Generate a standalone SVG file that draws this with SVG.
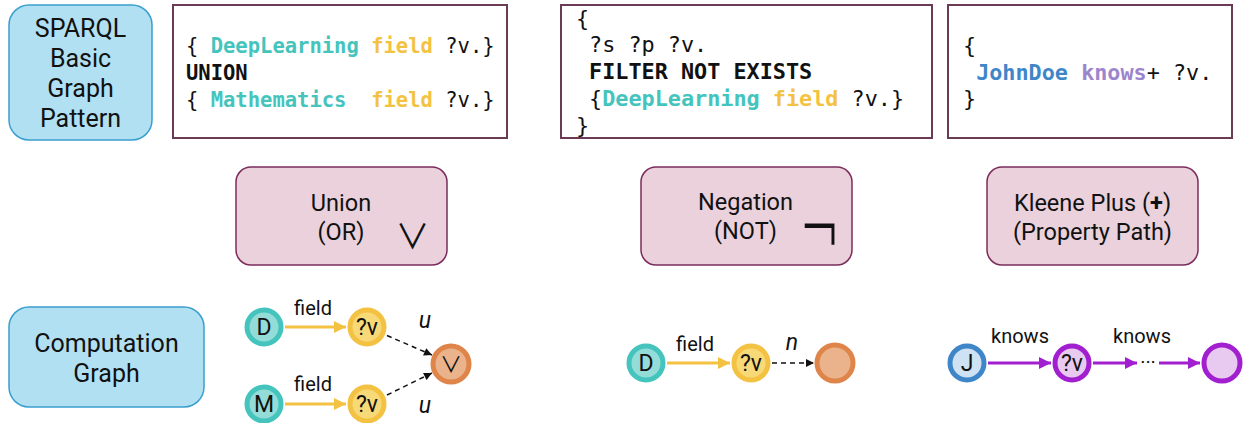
<svg xmlns="http://www.w3.org/2000/svg" width="1244" height="423" viewBox="0 0 1244 423">
<defs>
<style>
.blue{fill:#b1e0f3;stroke:#3a9fce;stroke-width:1.5}
.code{fill:#fff;stroke:#6b3a55;stroke-width:2}
.pink{fill:#ead1dc;stroke:#7b2c5a;stroke-width:1.5}
.lbl{font-family:Roboto,"Liberation Sans",sans-serif;fill:#111;text-anchor:middle}
.mono{font-family:"DejaVu Sans Mono","Liberation Mono",monospace;font-size:20.5px;fill:#111;white-space:pre}
.mono2{font-family:"DejaVu Sans Mono","Liberation Mono",monospace;font-size:21.8px;fill:#111;white-space:pre}
.b{font-weight:bold}
.teal{fill:#45c4bd;font-weight:bold}
.yel{fill:#f4c242;font-weight:bold}
.jd{fill:#3f86c8;font-weight:bold}
.kn{fill:#9d85cc;font-weight:bold}
.nt{fill:#93dcd7;stroke:#45c4bd;stroke-width:5}
.ny{fill:#f8d978;stroke:#f4c242;stroke-width:5}
.no{fill:#ebb38b;stroke:#e0854a;stroke-width:5}
.nb{fill:#cfe2f3;stroke:#3f86c8;stroke-width:5}
.np{fill:#e8c9f0;stroke:#a21fcf;stroke-width:5}
.nlab{font-family:Roboto,"Liberation Sans",sans-serif;font-size:23px;fill:#111;text-anchor:middle}
.elab{font-family:Roboto,"Liberation Sans",sans-serif;font-size:20px;fill:#111;text-anchor:middle}
.ital{font-family:Roboto,"Liberation Sans",sans-serif;font-size:23px;font-style:italic;fill:#111;text-anchor:middle}
.sym{font-family:"Noto Sans CJK JP","Noto Sans CJK SC","DejaVu Sans",sans-serif;fill:#111;text-anchor:middle}
.ey{stroke:#f4c242;stroke-width:3;fill:none}
.ep{stroke:#a21fcf;stroke-width:3;fill:none}
.ed{stroke:#111;stroke-width:1.5;stroke-dasharray:5,4;fill:none}
</style>
<marker id="ay" viewBox="0 0 10 10" refX="10" refY="5" markerWidth="15" markerHeight="12" markerUnits="userSpaceOnUse" orient="auto"><path d="M0,0 L10,5 L0,10 z" fill="#f4c242"/></marker>
<marker id="ap" viewBox="0 0 10 10" refX="10" refY="5" markerWidth="15" markerHeight="12" markerUnits="userSpaceOnUse" orient="auto"><path d="M0,0 L10,5 L0,10 z" fill="#a21fcf"/></marker>
<marker id="ak" viewBox="0 0 10 10" refX="10" refY="5" markerWidth="9" markerHeight="8" markerUnits="userSpaceOnUse" orient="auto"><path d="M0,0 L10,5 L0,10 z" fill="#111"/></marker>
</defs>
<rect width="1244" height="423" fill="#fff"/>

<g id="sparql-label">
<rect class="blue" x="9" y="5" width="143" height="135" rx="20"/>
<text class="lbl" font-size="25" x="80.5" y="37">SPARQL</text>
<text class="lbl" font-size="25" x="80.5" y="67">Basic</text>
<text class="lbl" font-size="25" x="80.5" y="97">Graph</text>
<text class="lbl" font-size="25" x="80.5" y="127">Pattern</text>
</g>

<g id="code-union">
<rect class="code" x="173" y="5" width="334" height="133"/>
<text class="mono" x="186" y="53">{ <tspan class="teal">DeepLearning</tspan> <tspan class="yel">field</tspan> ?v.}</text>
<text class="mono b" x="186" y="80">UNION</text>
<text class="mono" x="186" y="107">{ <tspan class="teal">Mathematics</tspan>  <tspan class="yel">field</tspan> ?v.}</text>
</g>

<g id="code-negation">
<rect class="code" x="561" y="5" width="371" height="133"/>
<text class="mono2" x="576" y="25.5">{</text>
<text class="mono2" x="576" y="52.3"> ?s ?p ?v.</text>
<text class="mono2 b" x="576" y="79"> FILTER NOT EXISTS</text>
<text class="mono2" x="576" y="105.8"> {<tspan class="teal">DeepLearning</tspan> <tspan class="yel">field</tspan> ?v.}</text>
<text class="mono2" x="576" y="132.5">}</text>
</g>

<g id="code-kleene">
<rect class="code" x="948" y="5" width="284" height="133"/>
<text class="mono2" x="963" y="53">{</text>
<text class="mono2" x="963" y="80"> <tspan class="jd">JohnDoe</tspan> <tspan class="kn">knows</tspan>+ ?v.</text>
<text class="mono2" x="963" y="106">}</text>
</g>

<g id="union-op">
<rect class="pink" x="236" y="167" width="211" height="98" rx="15"/>
<text class="lbl" font-size="23.5" x="341" y="211">Union</text>
<text class="lbl" font-size="23.5" x="341" y="240">(OR)</text>
<text class="sym" font-size="34" x="412.5" y="249">∨</text>
</g>

<g id="negation-op">
<rect class="pink" x="641" y="167" width="211" height="98" rx="15"/>
<text class="lbl" font-size="23.5" x="745.5" y="210">Negation</text>
<text class="lbl" font-size="23.5" x="745.5" y="239">(NOT)</text>
<text class="sym" font-size="40" x="0" y="0" transform="translate(820,257) scale(1,1.6)">￢</text>
</g>

<g id="kleene-op">
<rect class="pink" x="987" y="167" width="211" height="98" rx="15"/>
<text class="lbl" font-size="23.5" x="1092.5" y="211">Kleene Plus (<tspan font-weight="bold">+</tspan>)</text>
<text class="lbl" font-size="23.5" x="1092.5" y="240">(Property Path)</text>
</g>

<g id="computation-label">
<rect class="blue" x="9" y="307" width="195" height="100" rx="20"/>
<text class="lbl" font-size="25" x="106.5" y="352">Computation</text>
<text class="lbl" font-size="25" x="106.5" y="382">Graph</text>
</g>

<g id="connectors">
<line class="ey" x1="285" y1="327" x2="346" y2="327" marker-end="url(#ay)"/>
<line class="ey" x1="285" y1="404" x2="346" y2="404" marker-end="url(#ay)"/>
<line class="ed" x1="387" y1="335.5" x2="432" y2="355" marker-end="url(#ak)"/>
<line class="ed" x1="387" y1="395" x2="432" y2="373" marker-end="url(#ak)"/>
<line class="ey" x1="667" y1="363" x2="730" y2="363" marker-end="url(#ay)"/>
<line class="ed" x1="772" y1="363" x2="814" y2="363" marker-end="url(#ak)"/>
<line class="ep" x1="988" y1="363" x2="1051" y2="363" marker-end="url(#ap)"/>
<line class="ep" x1="1093" y1="363" x2="1137" y2="363" marker-end="url(#ap)"/>
<line class="ep" x1="1159" y1="363" x2="1200" y2="363" marker-end="url(#ap)"/>
<text class="elab" x="313" y="315">field</text>
<text class="elab" x="313" y="391">field</text>
<text class="ital" x="425" y="328">u</text>
<text class="ital" x="425" y="413">u</text>
<text class="elab" x="695" y="351">field</text>
<text class="ital" x="792" y="350">n</text>
<text class="elab" x="1020" y="343">knows</text>
<text class="elab" x="1142" y="343">knows</text>
<text class="elab" x="1148" y="369">···</text>
</g>

<g id="node-D1"><circle class="nt" cx="264" cy="327" r="17"/><text class="nlab" x="264" y="335">D</text></g>
<g id="node-M"><circle class="nt" cx="264" cy="404" r="17"/><text class="nlab" x="264" y="412">M</text></g>
<g id="node-v1"><circle class="ny" cx="367" cy="327" r="17"/><text class="nlab" x="367" y="335">?v</text></g>
<g id="node-v2"><circle class="ny" cx="367" cy="404" r="17"/><text class="nlab" x="367" y="412">?v</text></g>
<g id="node-or"><circle class="no" cx="451" cy="364" r="18"/><text class="sym" x="451" y="372" font-size="22" fill="#444">∨</text></g>
<g id="node-D2"><circle class="nt" cx="646" cy="363" r="17"/><text class="nlab" x="646" y="371">D</text></g>
<g id="node-v3"><circle class="ny" cx="751" cy="363" r="17"/><text class="nlab" x="751" y="371">?v</text></g>
<g id="node-not"><circle class="no" cx="835" cy="363" r="18"/></g>
<g id="node-J"><circle class="nb" cx="967" cy="363" r="17"/><text class="nlab" x="967" y="371">J</text></g>
<g id="node-v4"><circle class="np" cx="1072" cy="363" r="17"/><text class="nlab" x="1072" y="371">?v</text></g>
<g id="node-end"><circle class="np" cx="1222" cy="363" r="18"/></g>
</svg>
